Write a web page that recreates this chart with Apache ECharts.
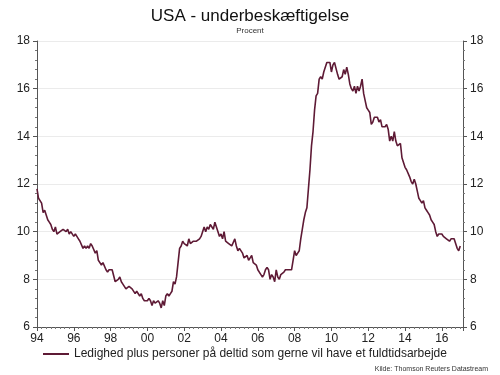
<!DOCTYPE html>
<html>
<head>
<meta charset="utf-8">
<script src="https://cdn.jsdelivr.net/npm/echarts@6/dist/echarts.min.js"></script>
<style>html,body{margin:0;padding:0;background:#fff}#c{width:500px;height:375px}</style>
</head>
<body>
<div id="c"></div>
<script>
// Monthly values, Jan 1994 – Jan 2017 (percent)
const startYear = 1994;
const v1994_1997 = [
  11.8,11.4,11.4,11.2,10.8,10.9,10.7,10.5,10.4,10.3,10.1,10.0,
  10.2,9.9,9.9,10.0,10.0,10.1,10.1,10.0,10.1,9.9,10.0,10.0,
  9.8,9.9,9.8,9.7,9.6,9.6,9.3,9.4,9.3,9.4,9.3,9.5,
  9.4,9.4,9.1,9.2,8.8,8.7,8.6,8.7,8.7,8.4,8.3,8.4
];
const v1998_2001 = [
  8.4,8.4,8.4,7.9,7.9,8.0,8.1,7.9,7.8,7.8,7.6,7.6,
  7.7,7.7,7.6,7.6,7.4,7.5,7.5,7.3,7.4,7.2,7.1,7.1,
  7.1,7.2,7.1,6.9,7.1,7.0,7.0,7.1,7.0,6.8,7.1,6.9,
  7.3,7.4,7.3,7.4,7.5,7.9,7.8,8.1,8.7,9.3,9.4,9.6
];
const v2002_2005 = [
  9.5,9.5,9.4,9.7,9.5,9.5,9.6,9.6,9.6,9.6,9.7,9.8,
  10.0,10.2,10.0,10.2,10.1,10.3,10.3,10.1,10.4,10.2,10.0,9.8,
  9.9,9.7,10.0,9.6,9.6,9.5,9.5,9.4,9.4,9.7,9.4,9.2,
  9.3,9.3,9.1,8.9,8.9,9.0,8.8,8.9,9.0,8.7,8.7,8.6
];
const v2006_2009 = [
  8.4,8.4,8.2,8.1,8.2,8.4,8.5,8.4,8.0,8.2,8.1,7.9,
  8.4,8.1,8.0,8.2,8.2,8.3,8.4,8.4,8.4,8.4,8.4,8.8,
  9.2,9.0,9.1,9.2,9.7,10.1,10.5,10.8,11.0,11.8,12.6,13.6,
  14.2,15.1,15.7,15.8,16.4,16.5,16.4,16.7,16.7,17.1,17.1,17.1
];
const v2010_2013 = [
  16.7,17.0,17.1,17.1,16.6,16.4,16.4,16.5,16.8,16.6,16.9,16.6,
  16.2,16.0,15.9,16.1,15.8,16.1,15.9,16.1,16.4,15.8,15.5,15.2,
  15.1,15.0,14.5,14.6,14.8,14.8,14.8,14.6,14.7,14.4,14.4,14.4,
  14.5,14.3,13.8,14.0,13.8,14.2,13.8,13.6,13.6,13.7,13.1,13.1
];
const v2014_2017 = [
  12.7,12.6,12.6,12.3,12.1,12.0,12.2,12.0,11.7,11.4,11.3,11.2,
  11.3,11.0,10.9,10.8,10.7,10.5,10.4,10.3,10.0,9.8,9.9,9.9,
  9.9,9.8,9.8,9.7,9.7,9.6,9.7,9.7,9.7,9.5,9.3,9.2,
  9.4
];
const seriesName = 'Ledighed plus personer på deltid som gerne vil have et fuldtidsarbejde';
const yTicks = [6, 8, 10, 12, 14, 16, 18];

const values = [].concat(v1994_1997, v1998_2001, v2002_2005, v2006_2009, v2010_2013, v2014_2017);
const data = values.map((v, i) => [startYear + i / 12, v]);

const chart = echarts.init(document.getElementById('c'), null, {renderer: 'canvas'});
const yAxisBase = {
  type: 'value', min: yTicks[0], max: yTicks[yTicks.length - 1], interval: 2,
  axisLine: {show: true, lineStyle: {color: '#555', width: 1}},
  axisTick: {show: true, length: 4, lineStyle: {color: '#555'}},
  minorTick: {show: true, splitNumber: 5, length: 2, lineStyle: {color: '#777'}},
  axisLabel: {color: '#222', fontSize: 12, fontFamily: 'Liberation Sans, Arial, sans-serif', margin: 7},
  splitLine: {show: true, lineStyle: {color: '#ebebeb', width: 1}}
};
chart.setOption({
  animation: false,
  backgroundColor: '#fff',
  title: [
    {text: 'USA - underbeskæftigelse', left: 'center', top: 3,
     textStyle: {fontSize: 17, fontWeight: 'normal', color: '#111', fontFamily: 'Liberation Sans, Arial, sans-serif'}},
    {text: 'Procent', left: 'center', top: 22,
     textStyle: {fontSize: 8, fontWeight: 'normal', color: '#333', fontFamily: 'Liberation Sans, Arial, sans-serif'}},
    {text: 'Kilde: Thomson Reuters Datastream', right: 7, top: 361,
     textStyle: {fontSize: 7, fontWeight: 'normal', color: '#333', fontFamily: 'Liberation Sans, Arial, sans-serif'}}
  ],
  grid: {left: 37, right: 37, top: 41, bottom: 48, containLabel: false},
  legend: {
    left: 38, top: 343, itemWidth: 26, itemHeight: 2, icon: 'rect', itemGap: 6,
    textStyle: {fontSize: 12, color: '#222', fontFamily: 'Liberation Sans, Arial, sans-serif'},
    data: [seriesName]
  },
  xAxis: {
    type: 'value', min: 1994, max: 2017.15, interval: 2,
    axisLine: {show: true, onZero: false, lineStyle: {color: '#555'}},
    axisTick: {show: true, length: 4, lineStyle: {color: '#555'}},
    minorTick: {show: true, splitNumber: 8, length: 2, lineStyle: {color: '#777'}},
    splitLine: {show: false},
    axisLabel: {
      color: '#222', fontSize: 12, fontFamily: 'Liberation Sans, Arial, sans-serif', margin: 6,
      formatter: v => (Math.abs(v - Math.round(v)) < 1e-6 && Math.round(v) % 2 === 0) ? String(Math.round(v)).slice(2) : ''
    }
  },
  yAxis: [
    Object.assign({}, yAxisBase, {position: 'left'}),
    Object.assign({}, yAxisBase, {position: 'right', splitLine: {show: false}})
  ],
  series: [{
    name: seriesName, type: 'line', data: data, showSymbol: false, symbol: 'none',
    lineStyle: {color: '#5e1a35', width: 1.6}, itemStyle: {color: '#5e1a35'}
  }]
});
</script>
</body>
</html>
